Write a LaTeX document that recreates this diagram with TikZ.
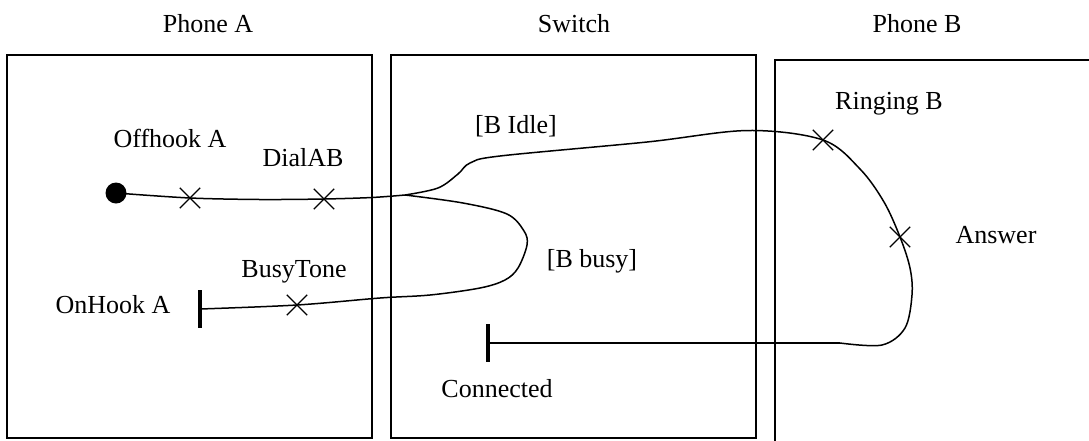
\documentclass[tikz,border=0pt]{standalone}
\usepackage{fontspec}
\setmainfont{Liberation Serif}
\usetikzlibrary{shapes.misc}
\tikzset{
  lane/.style={draw, line width=1.8pt},
  wire/.style={line width=1.5pt},
  lbl/.style={anchor=base, inner sep=0pt, font=\fontsize{26}{30}\selectfont},
  crossmark/.style={cross out, draw, line width=1.3pt, minimum size=19pt, inner sep=0pt},
  startdot/.style={circle, fill, minimum size=21pt, inner sep=0pt},
  stopbar/.style={rectangle, fill, minimum width=3.2pt, minimum height=38pt, inner sep=0pt},
}
\begin{document}
\begin{tikzpicture}[x=1pt, y=-1pt]
\useasboundingbox (0,0) rectangle (1089,440);
\fill[white] (0,0) rectangle (1089,440);

% swimlanes
\draw[lane] (7,55) rectangle (372,438);
\draw[lane] (391,55) rectangle (756,438);
\draw[lane] (775,460) -- (775,60) -- (1110,60);

\node[lbl] (tA) at (208,32) {Phone A};
\node[lbl] (tS) at (574,32) {Switch};
\node[lbl] (tB) at (917,32) {Phone B};

% events and states
\node[startdot] (offA) at (116,193) {};
\node[crossmark] (xoff) at (190,198) {};
\node[crossmark] (xdial) at (324,199) {};
\coordinate (fork) at (405,195);
\node[crossmark] (xring) at (823,140) {};
\node[crossmark] (xans) at (900,237) {};
\node[crossmark] (xbusy) at (297,305) {};
\node[stopbar] (onA) at (200,309) {};
\node[stopbar] (conn) at (488,343) {};

% labels
\node[lbl] at (170,147) {Offhook A};
\node[lbl] at (303,166) {DialAB};
\node[lbl] at (294,277) {BusyTone};
\node[lbl] at (113,313) {OnHook A};
\node[lbl] at (516,133) {[B Idle]};
\node[lbl] at (592,267) {[B busy]};
\node[lbl] at (497,397) {Connected};
\node[lbl] at (889,109) {Ringing B};
\node[lbl] at (996,243) {Answer};

% dial sequence
\draw[wire] plot[smooth, tension=0.5] coordinates
  {(offA.center) (xoff.center) (260,199.5) (xdial.center) (372,197.5) (fork)};

% idle branch: ring, answer, connect
\draw[wire] plot[smooth, tension=0.55] coordinates
  {(fork) (438,188) (458,174) (470,163) (500,156) (647,142) (748,130.5)
   (xring.center) (860,169) (884,202) (xans.center) (910,268) (912,295)
   (905,328) (882,345) (840,343)};
\draw[wire] (840,343) -- (conn.center);

% busy branch: busy tone, on hook
\draw[wire] plot[smooth, tension=0.55] coordinates
  {(fork) (463,203) (507,214) (524,231) (527,245) (518,268) (505,280)
   (480,288) (430,295) (380,298) (xbusy.center) (onA.center)};
\end{tikzpicture}
\end{document}
